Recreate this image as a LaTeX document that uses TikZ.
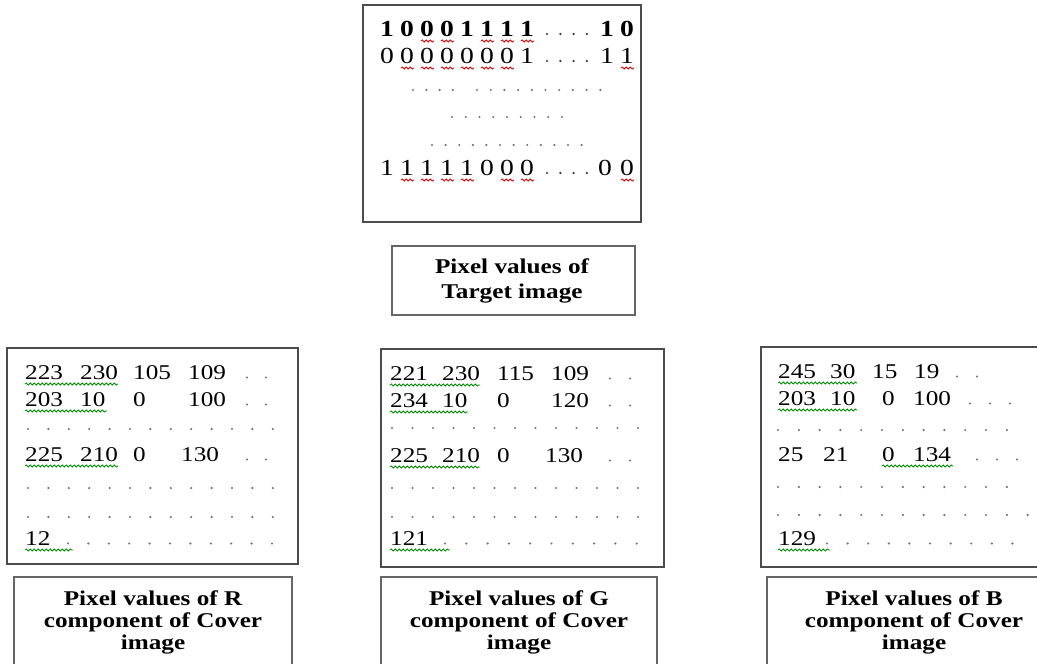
\documentclass[tikz,border=0pt]{standalone}
\usepackage{fontspec}
\setmainfont{Liberation Serif}
\newfontfamily\capfont[FakeStretch=1.2]{Liberation Serif}
\usetikzlibrary{decorations.pathmorphing}
\tikzset{
	frame/.style={draw=black!70, line width=1.6pt},
	capbox/.style={draw=black!60, line width=1.3pt},
	caption/.style={font=\capfont\bfseries\fontsize{21}{22}\selectfont, align=center, inner sep=0pt},
	bit/.style={font=\capfont\fontsize{23}{23}\selectfont, inner sep=0pt, anchor=base},
	bitb/.style={bit, font=\capfont\bfseries\fontsize{23}{23}\selectfont},
	val/.style={font=\capfont\fontsize{21}{21}\selectfont, inner sep=0pt, anchor=base west},
	redwave/.style={draw=red!85!black, line width=0.8pt, decorate, decoration={snake, amplitude=1.1pt, segment length=4pt}},
	greenwave/.style={draw=green!55!black, line width=0.8pt, decorate, decoration={snake, amplitude=1.1pt, segment length=4pt}},
}
\newcommand{\dotrow}[5][black!55]{%
	\foreach \j in {1,...,#4} \fill[#1] ({#2+(\j-1)*#3},#5) circle (1.2pt);}
\begin{document}
\begin{tikzpicture}[x=1pt,y=-1pt]
\useasboundingbox (0,0) rectangle (1037,664);
\clip (0,0) rectangle (1037,664);

% target image
\node[frame, minimum width=278pt, minimum height=217pt] (target) at (502,113.5) {};
\foreach \d [count=\i from 0] in {1,0,0,0,1,1,1,1}
	\node[bitb] (tA\i) at ({387+20*\i},36) {\d};
\node[bitb] (tA8) at (607,36) {1};
\node[bitb] (tA9) at (627,36) {0};
\dotrow[black!80]{547}{13.3}{4}{34}
\foreach \i in {2,3,5,6,7}
	\draw[redwave] ({381+20*\i},41) -- ++(13,0);

\foreach \d [count=\i from 0] in {0,0,0,0,0,0,0,1}
	\node[bit] (tB\i) at ({387+20*\i},63) {\d};
\node[bit] (tB8) at (607,63) {1};
\node[bit] (tB9) at (627,63) {1};
\dotrow[black!80]{547}{13.3}{4}{61}
\foreach \i in {1,...,6}
	\draw[redwave] ({381+20*\i},68) -- ++(13,0);
\draw[redwave] (621,68) -- ++(13,0);

\dotrow{413}{13.3}{4}{90}
\dotrow{477}{13.7}{10}{90}
\dotrow{452}{13.75}{9}{117}
\dotrow{432}{13.6}{12}{145}

\foreach \d [count=\i from 0] in {1,1,1,1,1,0,0,0}
	\node[bit] (tC\i) at ({387+20*\i},175) {\d};
\node[bit] (tC8) at (605,175) {0};
\node[bit] (tC9) at (627,175) {0};
\dotrow[black!80]{547}{13.3}{4}{173}
\foreach \i in {1,2,3,4,6,7}
	\draw[redwave] ({381+20*\i},180) -- ++(13,0);
\draw[redwave] (621,180) -- ++(13,0);

\node[capbox, minimum width=243pt, minimum height=69pt] (tcap) at (513.5,280.5) {};
\node[caption, font=\capfont\bfseries\fontsize{21}{25}\selectfont] (tcaptxt) at (512,280.5) {Pixel values of\\Target image};

% R component
\node[frame, minimum width=291pt, minimum height=216pt] (rbox) at (152.5,456) {};
\foreach \x/\t [count=\k] in {25/223, 80/230, 133/105, 188/109}
	\node[val] (rA\k) at (\x,379) {\t};
\foreach \x/\t [count=\k] in {25/203, 80/10, 133/0, 188/100}
	\node[val] (rB\k) at (\x,406) {\t};
\foreach \x/\t [count=\k] in {25/225, 80/210, 133/0, 181/130}
	\node[val] (rC\k) at (\x,461) {\t};
\node[val] (rD1) at (25,545) {12};
\dotrow{247}{19}{2}{377.5}
\dotrow{247}{19}{2}{404.5}
\dotrow{247}{19}{2}{459.5}
\dotrow{28}{20.4}{13}{429}
\dotrow{28}{20.4}{13}{488}
\dotrow{28}{20.4}{13}{517}
\dotrow{68}{20.4}{11}{543.5}
\draw[greenwave] (25,384) -- (118,384);
\draw[greenwave] (25,411) -- (107,411);
\draw[greenwave] (25,466) -- (118,466);
\draw[greenwave] (25,550) -- (73,550);

\node[capbox, minimum width=278pt, minimum height=123pt] (rcap) at (153,638.5) {};
\node[caption] (rcaptxt) at (153,622) {Pixel values of R\\component of Cover\\image};

% G component
\node[frame, minimum width=283pt, minimum height=218pt] (gbox) at (522.5,458) {};
\foreach \x/\t [count=\k] in {390/221, 442/230, 497/115, 551/109}
	\node[val] (gA\k) at (\x,380) {\t};
\foreach \x/\t [count=\k] in {390/234, 442/10, 497/0, 551/120}
	\node[val] (gB\k) at (\x,407) {\t};
\foreach \x/\t [count=\k] in {390/225, 442/210, 497/0, 545/130}
	\node[val] (gC\k) at (\x,462) {\t};
\node[val] (gD1) at (390,545) {121};
\dotrow{610}{20}{2}{378.5}
\dotrow{610}{20}{2}{405.5}
\dotrow{610}{20}{2}{460.5}
\dotrow{392}{20.5}{13}{428}
\dotrow{392}{20.5}{13}{488}
\dotrow{392}{20.5}{13}{517}
\dotrow{445}{21.3}{10}{543.5}
\draw[greenwave] (390,385) -- (480,385);
\draw[greenwave] (390,412) -- (468,412);
\draw[greenwave] (390,467) -- (480,467);
\draw[greenwave] (390,550) -- (450,550);

\node[capbox, minimum width=276pt, minimum height=123pt] (gcap) at (519,638.5) {};
\node[caption] (gcaptxt) at (519,622) {Pixel values of G\\component of Cover\\image};

% B component
\node[frame, minimum width=300pt, minimum height=220pt] (bbox) at (911,457) {};
\foreach \x/\t [count=\k] in {778/245, 830/30, 872/15, 914/19}
	\node[val] (bA\k) at (\x,378) {\t};
\foreach \x/\t [count=\k] in {778/203, 830/10, 882/0, 913/100}
	\node[val] (bB\k) at (\x,405) {\t};
\foreach \x/\t [count=\k] in {778/25, 823/21, 882/0, 913/134}
	\node[val] (bC\k) at (\x,461) {\t};
\node[val] (bD1) at (778,545) {129};
\dotrow{957}{20}{2}{376.5}
\dotrow{970}{20}{3}{403.5}
\dotrow{977}{20}{3}{459.5}
\dotrow{778}{20.8}{12}{430}
\dotrow{778}{20.8}{12}{487}
\dotrow{778}{20.8}{13}{515}
\dotrow{827}{20.6}{10}{543.5}
\draw[greenwave] (778,383) -- (857,383);
\draw[greenwave] (778,410) -- (857,410);
\draw[greenwave] (882,466) -- (953,466);
\draw[greenwave] (778,550) -- (830,550);

\node[capbox, minimum width=294pt, minimum height=123pt] (bcap) at (914,638.5) {};
\node[caption] (bcaptxt) at (914,622) {Pixel values of B\\component of Cover\\image};
\end{tikzpicture}
\end{document}
